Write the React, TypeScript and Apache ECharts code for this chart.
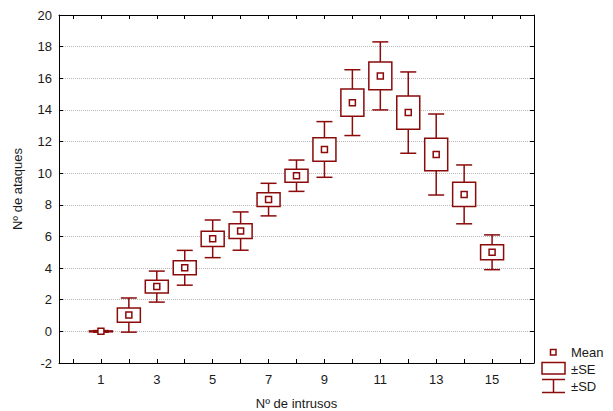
import React, { useEffect, useRef } from "react";
import * as echarts from "echarts";

const intruders = [1, 2, 3, 4, 5, 6, 7, 8, 9, 10, 11, 12, 13, 14, 15];
const means = [0.0, 1.03, 2.83, 4.02, 5.85, 6.34, 8.33, 9.84, 11.5, 14.46, 16.15, 13.83, 11.18, 8.66, 5.0];
const se = [0.03, 0.45, 0.4, 0.44, 0.48, 0.47, 0.43, 0.41, 0.74, 0.86, 0.88, 1.05, 1.03, 0.76, 0.47];
const sd = [0.05, 1.08, 0.98, 1.1, 1.19, 1.21, 1.03, 0.99, 1.76, 2.08, 2.15, 2.57, 2.56, 1.86, 1.1];
const xTickValues = [0, 1, 2, 3, 4, 5, 6, 7, 8, 9, 10, 11, 12, 13, 14, 15, 16];
const xLabelValues = [1, 3, 5, 7, 9, 11, 13, 15];
const legendLabels = ["Mean", "±SE", "±SD"];

const RED = "#8b0a0a";
const FONT = "Liberation Sans, Arial, sans-serif";
const TXT = "#1a1a1a";

export default function App() {
  const ref = useRef<HTMLDivElement>(null);
  useEffect(() => {
    if (!ref.current) return;
    const chart = echarts.init(ref.current, undefined, { renderer: "svg" });
    const data = intruders.map((x, i) => [x, means[i], se[i], sd[i]]);
    const boxW = 23;
    const capW = 16;
    const meanW = 6;
    const lineStyle = { stroke: RED, lineWidth: 1.5, fill: "none" };
    const axisLine = { show: true, onZero: false, lineStyle: { color: "#000", width: 1 } };
    chart.setOption({
      animation: false,
      textStyle: { fontFamily: FONT },
      grid: { left: 59, top: 15, width: 475, height: 348, show: false, containLabel: false, outerBoundsMode: "none" },
      xAxis: [
        {
          type: "value",
          min: -0.5,
          max: 16.5,
          position: "bottom",
          name: "Nº de intrusos",
          nameLocation: "middle",
          nameGap: 34,
          nameTextStyle: { color: TXT, fontSize: 13, fontFamily: FONT },
          axisLine,
          axisTick: { show: true, inside: true, length: 4, customValues: xTickValues, lineStyle: { color: "#000" } },
          axisLabel: { customValues: xLabelValues, color: TXT, fontSize: 13, margin: 10, fontFamily: FONT },
          splitLine: { show: false },
        },
        {
          type: "value",
          min: -0.5,
          max: 16.5,
          position: "top",
          axisLine,
          axisTick: { show: true, inside: true, length: 4, customValues: xTickValues, lineStyle: { color: "#000" } },
          axisLabel: { show: false },
          splitLine: { show: false },
        },
      ],
      yAxis: [
        {
          type: "value",
          min: -2,
          max: 20,
          interval: 2,
          position: "left",
          name: "Nº de ataques",
          nameLocation: "middle",
          nameGap: 35,
          nameTextStyle: { color: TXT, fontSize: 13, fontFamily: FONT },
          axisLine,
          axisTick: { show: true, inside: true, length: 4, lineStyle: { color: "#000" } },
          axisLabel: { color: TXT, fontSize: 13, margin: 7, fontFamily: FONT },
          splitLine: { show: true, lineStyle: { color: "#b8b8b8", type: "dotted", width: 1 } },
        },
        {
          type: "value",
          min: -2,
          max: 20,
          interval: 2,
          position: "right",
          axisLine,
          axisTick: { show: true, inside: true, length: 4, lineStyle: { color: "#000" } },
          axisLabel: { show: false },
          splitLine: { show: false },
        },
      ],
      series: [
        {
          type: "custom",
          xAxisIndex: 0,
          yAxisIndex: 0,
          data,
          encode: { x: 0, y: 1 },
          renderItem: (params: any, api: any) => {
            const x = api.value(0);
            const m = api.value(1);
            const s = api.value(2);
            const d = api.value(3);
            const pm = api.coord([x, m]);
            const seTop = api.coord([x, m + s])[1];
            const seBot = api.coord([x, m - s])[1];
            const sdTop = api.coord([x, m + d])[1];
            const sdBot = api.coord([x, m - d])[1];
            const cx = pm[0];
            return {
              type: "group",
              children: [
                { type: "line", shape: { x1: cx, y1: sdTop, x2: cx, y2: sdBot }, style: lineStyle },
                { type: "line", shape: { x1: cx - capW / 2, y1: sdTop, x2: cx + capW / 2, y2: sdTop }, style: lineStyle },
                { type: "line", shape: { x1: cx - capW / 2, y1: sdBot, x2: cx + capW / 2, y2: sdBot }, style: lineStyle },
                {
                  type: "rect",
                  shape: { x: cx - boxW / 2, y: seTop, width: boxW, height: Math.max(seBot - seTop, 0.5) },
                  style: { stroke: RED, lineWidth: 1.5, fill: "#fff" },
                },
                {
                  type: "rect",
                  shape: { x: cx - meanW / 2, y: pm[1] - meanW / 2, width: meanW, height: meanW },
                  style: { stroke: RED, lineWidth: 1.5, fill: "#fff" },
                },
              ],
            };
          },
        },
      ],
      graphic: [
        { type: "rect", shape: { x: 550.5, y: 349.5, width: 5.5, height: 5.5 }, style: { stroke: RED, lineWidth: 1.5, fill: "#fff" } },
        { type: "text", x: 571, y: 352.5, style: { text: legendLabels[0], fill: TXT, font: `13px ${FONT}`, verticalAlign: "middle" } },
        { type: "rect", shape: { x: 542, y: 362.5, width: 23, height: 11.5 }, style: { stroke: RED, lineWidth: 1.5, fill: "#fff" } },
        { type: "text", x: 571, y: 369.5, style: { text: legendLabels[1], fill: TXT, font: `13px ${FONT}`, verticalAlign: "middle" } },
        { type: "line", shape: { x1: 542, y1: 379.5, x2: 565, y2: 379.5 }, style: { stroke: RED, lineWidth: 1.5 } },
        { type: "line", shape: { x1: 553.5, y1: 379.5, x2: 553.5, y2: 392.5 }, style: { stroke: RED, lineWidth: 1.5 } },
        { type: "line", shape: { x1: 542, y1: 392.5, x2: 565, y2: 392.5 }, style: { stroke: RED, lineWidth: 1.5 } },
        { type: "text", x: 571, y: 386, style: { text: legendLabels[2], fill: TXT, font: `13px ${FONT}`, verticalAlign: "middle" } },
      ],
    });
    return () => chart.dispose();
  }, []);
  return <div ref={ref} style={{ width: 613, height: 411, position: "absolute", left: 0, top: 0, background: "#fff" }} />;
}
